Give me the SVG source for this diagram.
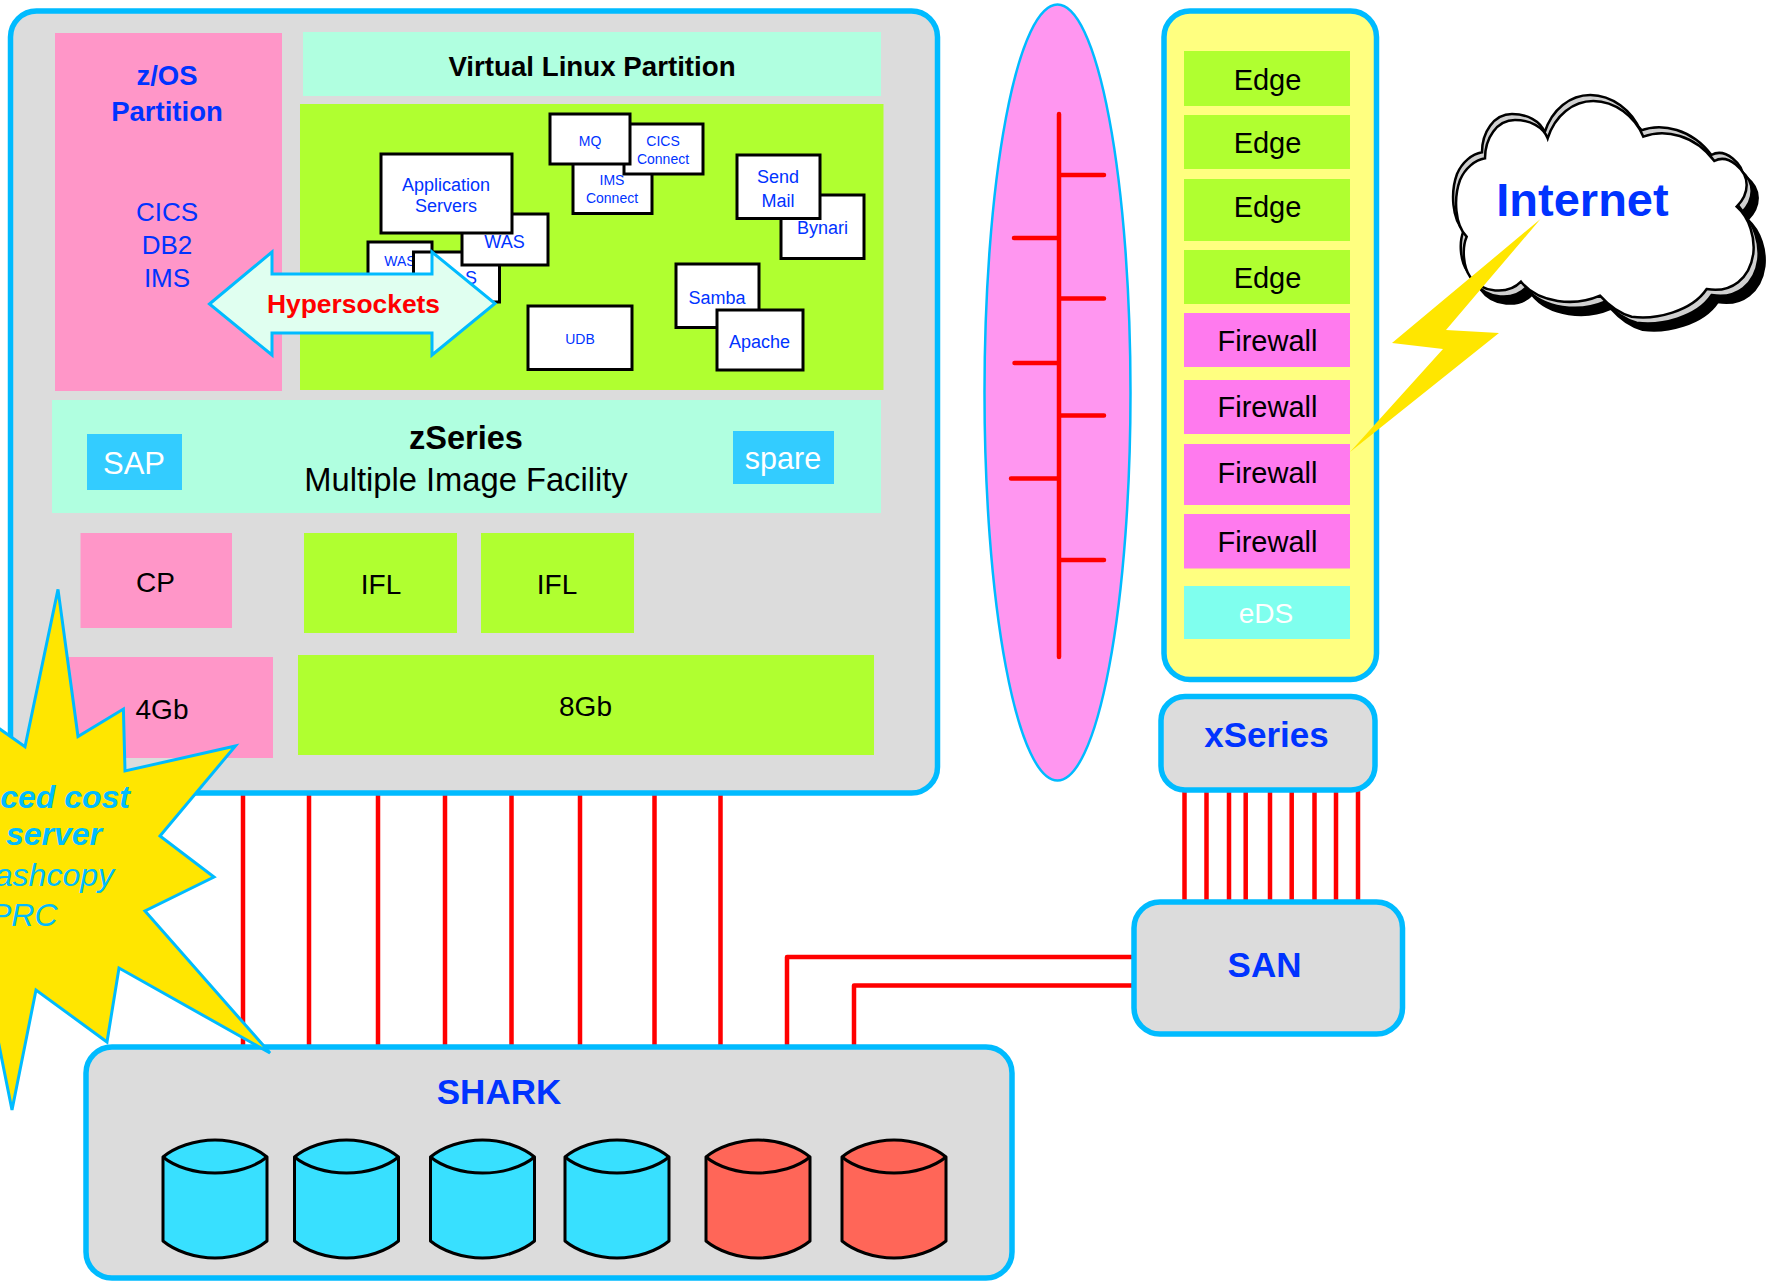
<svg xmlns="http://www.w3.org/2000/svg" width="1775" height="1281" viewBox="0 0 1775 1281">
<style>
text{font-family:"Liberation Sans",Arial,sans-serif;text-anchor:middle}
.panel{stroke:#00BBFF;stroke-width:5.5}
.gray{fill:#DCDCDC}
.pink{fill:#FF96C8}
.mint{fill:#B0FFE0}
.lime{fill:#B0FF30}
.sky{fill:#33CCFF}
.fw{fill:#FF7AEE}
.box{fill:#FFFFFF;stroke:#000000;stroke-width:3}
.b{fill:#0033FF}
.bold{font-weight:bold}
.k{fill:#000000}
.w{fill:#FFFFFF}
.s14{font-size:14px}.s18{font-size:18px}.s26{font-size:26px}.s27{font-size:27.5px}.s28{font-size:28px}.s29{font-size:29px}.s35{font-size:35px}
.link{stroke:#FF0000;stroke-width:4.5;fill:none}
.bus{stroke:#FF0000;stroke-width:4.5;fill:none;stroke-linecap:round}
.cyl{stroke:#000000;stroke-width:3;stroke-linejoin:round}
.burst{font-size:32px;font-style:italic;fill:#00BBFF;text-anchor:end}
.cl{stroke:#000000;stroke-width:7.5}
</style>
<defs>
<path id="cloud" d="M308,160C330,90 385,48 445,48C510,48 570,95 595,155C660,130 750,150 808,228C850,205 905,255 905,300C905,330 890,350 875,365C915,400 930,460 925,505C915,580 860,625 785,612C740,680 630,705 560,695C520,685 490,660 465,632C390,665 280,655 228,590C190,630 110,625 75,575C55,545 50,490 65,455C30,420 25,340 45,285C60,250 90,225 120,220C120,160 155,105 210,105C255,105 295,125 308,160Z"/>
<g id="cylb"><path d="M0,17C12,7 32,0 52,0C72,0 92,7 104,17V101C92,111 72,118 52,118C32,118 12,111 0,101Z"/><path d="M0,17C12,27 32,33 52,33C72,33 92,27 104,17" fill="none"/></g>
</defs>
<rect width="1775" height="1281" fill="#FFFFFF"/>

<g id="connectors">
<path class="link" d="M243,793V1047M309,793V1047M378,793V1047M445,793V1047M511.5,793V1047M580,793V1047M654.5,793V1047M720.5,793V1047"/>
<path class="link" d="M1184.5,790V901M1206.5,790V901M1229,790V901M1245.7,790V901M1270,790V901M1291.7,790V901M1314.5,790V901M1336,790V901M1358,790V901"/>
<path class="link" stroke-linejoin="round" d="M1134,957H787V1047M1134,985.5H854V1047"/>
</g>

<g id="zseries-frame"><rect class="panel gray" x="10.5" y="11" width="927" height="782" rx="26"/></g>
<g id="zos-partition"><rect class="pink" x="55" y="33" width="227" height="358"/>
<text class="b bold s27" x="167" y="84.5">z/OS</text><text class="b bold s27" x="167" y="121">Partition</text>
<text class="b s26" x="167" y="221">CICS</text><text class="b s26" x="167" y="254">DB2</text><text class="b s26" x="167" y="287">IMS</text></g>
<g id="linux-title"><rect class="mint" x="303" y="32" width="578" height="64"/><text class="k bold" font-size="27.7" x="592" y="76">Virtual Linux Partition</text></g>
<g id="linux-area"><rect class="lime" x="300" y="104" width="583.5" height="286"/></g>
<g id="was-small"><rect class="box" x="368" y="242" width="64" height="50"/><text class="b s14" x="400" y="266">WAS</text></g>
<g id="was-hidden"><rect class="box" x="413.5" y="252" width="86" height="50"/><text class="b s18" x="471" y="284">S</text></g>
<g id="was"><rect class="box" x="462" y="214" width="86" height="51"/><text class="b s18" x="504.5" y="247.5">WAS</text></g>
<g id="app-servers"><rect class="box" x="381" y="154" width="131" height="79"/><text class="b s18" x="446" y="191">Application</text><text class="b s18" x="446" y="212">Servers</text></g>
<g id="ims-connect"><rect class="box" x="573" y="160" width="79" height="53.5"/><text class="b s14" x="612" y="185">IMS</text><text class="b s14" x="612" y="203">Connect</text></g>
<g id="cics-connect"><rect class="box" x="624" y="124" width="79" height="50"/><text class="b s14" x="663" y="146">CICS</text><text class="b s14" x="663" y="164">Connect</text></g>
<g id="mq"><rect class="box" x="550" y="114" width="80" height="50"/><text class="b s14" x="590" y="146">MQ</text></g>
<g id="bynari"><rect class="box" x="781" y="195" width="83" height="63.5"/><text class="b s18" x="822.5" y="234">Bynari</text></g>
<g id="send-mail"><rect class="box" x="737" y="155" width="83" height="63.5"/><text class="b s18" x="778" y="183">Send</text><text class="b s18" x="778" y="207">Mail</text></g>
<g id="samba"><rect class="box" x="676" y="264" width="83" height="63.5"/><text class="b s18" x="717" y="304">Samba</text></g>
<g id="apache"><rect class="box" x="717" y="310" width="86" height="60"/><text class="b s18" x="759.5" y="348">Apache</text></g>
<g id="udb"><rect class="box" x="528" y="306" width="104" height="63.5"/><text class="b s14" x="580" y="344">UDB</text></g>
<g id="hypersockets"><polygon points="209.5,304 272,252 272,274 432,274 432,252 495,303.5 432,355 432,333 272,333 272,355" fill="#E0FFF0" stroke="#00BBFF" stroke-width="3"/>
<text class="bold" x="353.5" y="313" font-size="26.4" fill="#FF0000">Hypersockets</text></g>
<g id="zseries-band"><rect class="mint" x="52" y="400" width="829" height="113"/><text class="k bold" x="466" y="449" font-size="32.5">zSeries</text><text class="k" font-size="32.7" x="466" y="491">Multiple Image Facility</text></g>
<g id="sap"><rect class="sky" x="87" y="434" width="95" height="56"/><text class="w" font-size="31" x="134" y="474">SAP</text></g>
<g id="spare"><rect class="sky" x="733" y="431" width="101" height="53"/><text class="w" font-size="30.5" x="783" y="469">spare</text></g>
<g id="cp"><rect class="pink" x="80.5" y="533" width="151.5" height="95"/><text class="k s28" x="155.5" y="592">CP</text></g>
<g id="ifl-1"><rect class="lime" x="304" y="533" width="153" height="100"/><text class="k s28" x="381" y="594">IFL</text></g>
<g id="ifl-2"><rect class="lime" x="481" y="533" width="153" height="100"/><text class="k s28" x="557" y="594">IFL</text></g>
<g id="mem-4gb"><rect class="pink" x="68" y="657" width="205" height="101"/><text class="k s28" x="162" y="719">4Gb</text></g>
<g id="mem-8gb"><rect class="lime" x="298" y="655" width="576" height="100"/><text class="k s28" x="585.5" y="716">8Gb</text></g>

<g id="network"><ellipse cx="1057.5" cy="392.5" rx="73" ry="388" fill="#FF96F0" stroke="#00BBFF" stroke-width="2.5"/>
<path class="bus" d="M1059,114V657M1059,175H1104M1014,238H1059M1059,298.5H1104M1014.5,363H1059M1059,415.5H1104M1011,478.5H1059M1059,560H1104"/></g>

<g id="xseries-rack"><rect class="panel" x="1164" y="11" width="212.5" height="668.5" rx="26" fill="#FFFF80"/></g>
<g id="edge-1"><rect class="lime" x="1184" y="51" width="166" height="55"/><text class="k s29" x="1267.5" y="89.5">Edge</text></g>
<g id="edge-2"><rect class="lime" x="1184" y="115" width="166" height="54"/><text class="k s29" x="1267.5" y="153">Edge</text></g>
<g id="edge-3"><rect class="lime" x="1184" y="179" width="166" height="62"/><text class="k s29" x="1267.5" y="217">Edge</text></g>
<g id="edge-4"><rect class="lime" x="1184" y="250" width="166" height="54"/><text class="k s29" x="1267.5" y="288">Edge</text></g>
<g id="firewall-1"><rect class="fw" x="1184" y="313" width="166" height="54"/><text class="k s29" x="1267.5" y="351">Firewall</text></g>
<g id="firewall-2"><rect class="fw" x="1184" y="380" width="166" height="54"/><text class="k s29" x="1267.5" y="417">Firewall</text></g>
<g id="firewall-3"><rect class="fw" x="1184" y="444" width="166" height="61"/><text class="k s29" x="1267.5" y="482.5">Firewall</text></g>
<g id="firewall-4"><rect class="fw" x="1184" y="514" width="166" height="54.5"/><text class="k s29" x="1267.5" y="552">Firewall</text></g>
<g id="eds"><rect x="1184" y="586" width="166" height="53" fill="#7FFFEE"/><text class="w s28" x="1266" y="623">eDS</text></g>

<g id="xseries"><rect class="panel gray" x="1161" y="696.5" width="214" height="93.5" rx="24"/><text class="b bold s35" x="1266.5" y="746.5">xSeries</text></g>
<g id="san"><rect class="panel gray" x="1134" y="902" width="268.5" height="132" rx="26"/><text class="b bold s35" x="1264.5" y="977">SAN</text></g>

<g id="shark"><rect class="panel gray" x="86" y="1047" width="926" height="231" rx="26"/><text class="b bold s35" x="499" y="1104">SHARK</text>
<use href="#cylb" class="cyl" x="163" y="1140" fill="#38E0FF"/><use href="#cylb" class="cyl" x="294.5" y="1140" fill="#38E0FF"/><use href="#cylb" class="cyl" x="430.5" y="1140" fill="#38E0FF"/><use href="#cylb" class="cyl" x="565" y="1140" fill="#38E0FF"/><use href="#cylb" class="cyl" x="706" y="1140" fill="#FF6658"/><use href="#cylb" class="cyl" x="842" y="1140" fill="#FF6658"/></g>

<g id="starburst"><polygon points="-20,715 25,746.7 58,589.4 78,736.5 123.4,709 125,771 235.4,746 160,836 214,877 145,911 270,1053 119,968 107,1042 36,990 12,1110 -10,1000" fill="#FFE600" stroke="#00BBFF" stroke-width="3"/>
<text class="burst bold" x="130" y="807.5">ced cost</text><text class="burst bold" x="102" y="845">server</text><text class="burst" x="114" y="885.5">ashcopy</text><text class="burst" x="57.5" y="926">PRC</text></g>

<g id="internet"><g transform="translate(1445,85) scale(0.33333)"><use href="#cloud" class="cl" transform="translate(33,39)" fill="#000000"/><use href="#cloud" class="cl" transform="translate(15,18)" fill="#D0D0D0"/><use href="#cloud" class="cl" transform="translate(-9,-18)" fill="#D0D0D0"/><use href="#cloud" class="cl" fill="#FFFFFF"/></g>
<text class="b bold" x="1582.5" y="216" font-size="47">Internet</text></g>
<g id="lightning"><polygon points="1540.5,219 1392,343 1443,349 1350,452 1499,333 1446,330" fill="#FFE600"/></g>
</svg>
